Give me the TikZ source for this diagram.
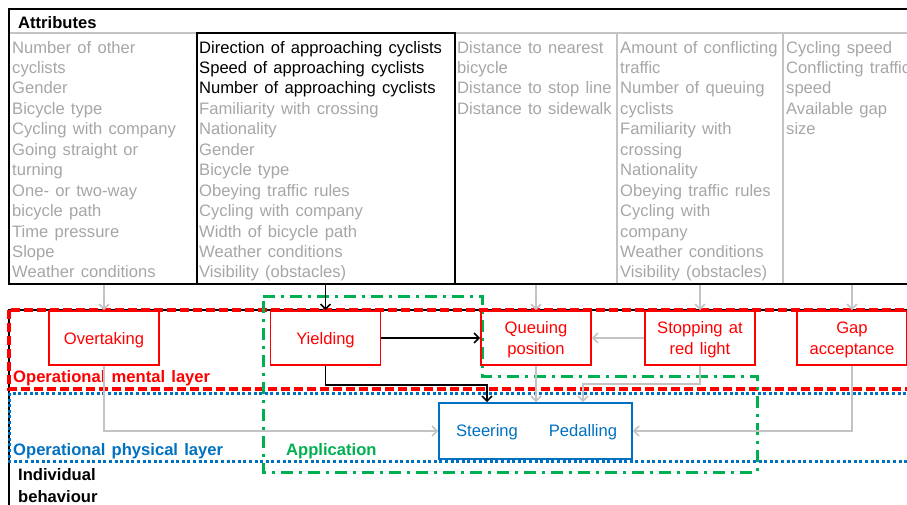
\documentclass[tikz,border=0pt]{standalone}
\usepackage{fontspec}
\setmainfont[WordSpace=1.35]{Liberation Sans}
\usetikzlibrary{arrows.meta}
\definecolor{txtgray}{RGB}{166,166,166}
\definecolor{lngray}{RGB}{195,195,195}
\definecolor{offred}{RGB}{255,0,0}
\definecolor{offblue}{RGB}{0,112,192}
\definecolor{offgreen}{RGB}{0,176,80}
\begin{document}
\begin{tikzpicture}[x=1pt,y=-1pt,
  every node/.style={font=\fontsize{16.6}{20.45}\selectfont},
  attr/.style={anchor=base west, inner sep=0pt, text=txtgray},
  attrk/.style={anchor=base west, inner sep=0pt, text=black},
  mental/.style={draw=offred, line width=1.8pt, text=offred, minimum width=110pt,
    minimum height=54pt, align=center, inner sep=0pt, text depth=0pt},
  garrow/.style={draw=lngray, line width=1.5pt, -{Straight Barb[length=5pt,width=10pt]}},
  barrow/.style={draw=black, line width=1.5pt, -{Straight Barb[length=5pt,width=10pt]}},
  lbl/.style={anchor=base west, inner sep=0pt, font=\fontsize{16.6}{20.45}\selectfont\bfseries},
  reddash/.style={draw=offred, line width=3.5pt, dash pattern=on 9pt off 4pt},
  bluedot/.style={draw=offblue, line width=3pt, dash pattern=on 3pt off 2.6pt},
  greendd/.style={draw=offgreen, line width=3pt, dash pattern=on 12pt off 6pt on 3pt off 6pt},
]
\useasboundingbox (0,0) rectangle (907,504);
\clip (0,0) rectangle (907,504);

% attributes frame
\draw[line width=2.5pt] (9,9) rectangle (930,284);
\draw[lngray, line width=1.5pt] (10,33) -- (907,33);
\draw[lngray, line width=1.5pt] (617,33) -- (617,283) (783,33) -- (783,283);
\draw[line width=1.8pt] (197,33) rectangle (455,284);
\node[lbl] (attrhead) at (18,28) {Attributes};

% column 1
\foreach \t [count=\i from 0] in {Number of other, cyclists, Gender, Bicycle type,
  Cycling with company, Going straight or, turning, One- or two-way, bicycle path,
  Time pressure, Slope, Weather conditions}
  \node[attr] (ca\i) at (12,53+20.45*\i) {\t};
% column 2
\foreach \t [count=\i from 0] in {Direction of approaching cyclists,
  Speed of approaching cyclists, Number of approaching cyclists}
  \node[attrk] (cb\i) at (199,53+20.45*\i) {\t};
\foreach \t [count=\i from 3] in {Familiarity with crossing, Nationality, Gender,
  Bicycle type, Obeying traffic rules, Cycling with company, Width of bicycle path,
  Weather conditions, Visibility (obstacles)}
  \node[attr] (cb\i) at (199,53+20.45*\i) {\t};
% column 3
\foreach \t [count=\i from 0] in {Distance to nearest, bicycle, Distance to stop line,
  Distance to sidewalk}
  \node[attr] (cc\i) at (457,53+20.45*\i) {\t};
% column 4
\foreach \t [count=\i from 0] in {Amount of conflicting, traffic, Number of queuing,
  cyclists, Familiarity with, crossing, Nationality, Obeying traffic rules,
  Cycling with, company, Weather conditions, Visibility (obstacles)}
  \node[attr] (cd\i) at (620,53+20.45*\i) {\t};
% column 5
\foreach \t [count=\i from 0] in {Cycling speed, Conflicting traffic, speed,
  Available gap, size}
  \node[attr] (ce\i) at (786,53+20.45*\i) {\t};

% individual behaviour frame
\draw[line width=2.5pt] (9,310) rectangle (930,530);
% layers
\draw[reddash] (9,310) rectangle (930,389);
\draw[bluedot] (9,393) rectangle (930,461);
\draw[greendd] (263,296) -- (482,296) -- (482,376) -- (757,376) -- (757,472) -- (263,472) -- cycle;

\node[lbl, text=offred] (mlay) at (13,382) {Operational mental layer};
\node[lbl, text=offblue] (play) at (13,455) {Operational physical layer};
\node[lbl, text=offgreen] (appl) at (286,455) {Application};
\node[lbl] (ib1) at (18,480) {Individual};
\node[lbl] (ib2) at (18,502) {behaviour};

% mental nodes
\node[mental] (over) at (104,338) {Overtaking};
\node[mental] (yield) at (325.5,338) {Yielding};
\node[mental] (queue) at (536,338) {Queuing\\position};
\node[mental] (stop) at (700,338) {Stopping at\\red light};
\node[mental] (gap) at (852,338) {Gap\\acceptance};

% physical node
\node[draw=offblue, line width=1.8pt, minimum width=193pt, minimum height=56pt, inner sep=0pt] (phys) at (535.5,431) {};
\node[text=offblue, anchor=base, inner sep=0pt] (steer) at (487,436) {Steering};
\node[text=offblue, anchor=base, inner sep=0pt] (pedal) at (583,436) {Pedalling};

% attribute arrows
\coordinate (s1) at (104,285);
\coordinate (s2) at (325.5,285);
\coordinate (s3) at (536,285);
\coordinate (s4) at (700,285);
\coordinate (s5) at (852,285);
\draw[garrow] (s1) -- (over.north);
\draw[barrow] (s2) -- (yield.north);
\draw[garrow] (s3) -- (queue.north);
\draw[garrow] (s4) -- (stop.north);
\draw[garrow] (s5) -- (gap.north);

% connectors
\draw[barrow] (yield.east) -- (queue.west);
\draw[garrow] (stop.west) -- (queue.east);
\draw[barrow] (yield.south) -- ++(0,19) -| (steer.north |- phys.north);
\draw[garrow] (over.south) |- (phys.west);
\draw[garrow] (queue.south) -- (queue.south |- phys.north);
\draw[garrow] (stop.south) -- ++(0,18) -| (pedal.north |- phys.north);
\draw[garrow] (gap.south) |- (phys.east);
\end{tikzpicture}
\end{document}
